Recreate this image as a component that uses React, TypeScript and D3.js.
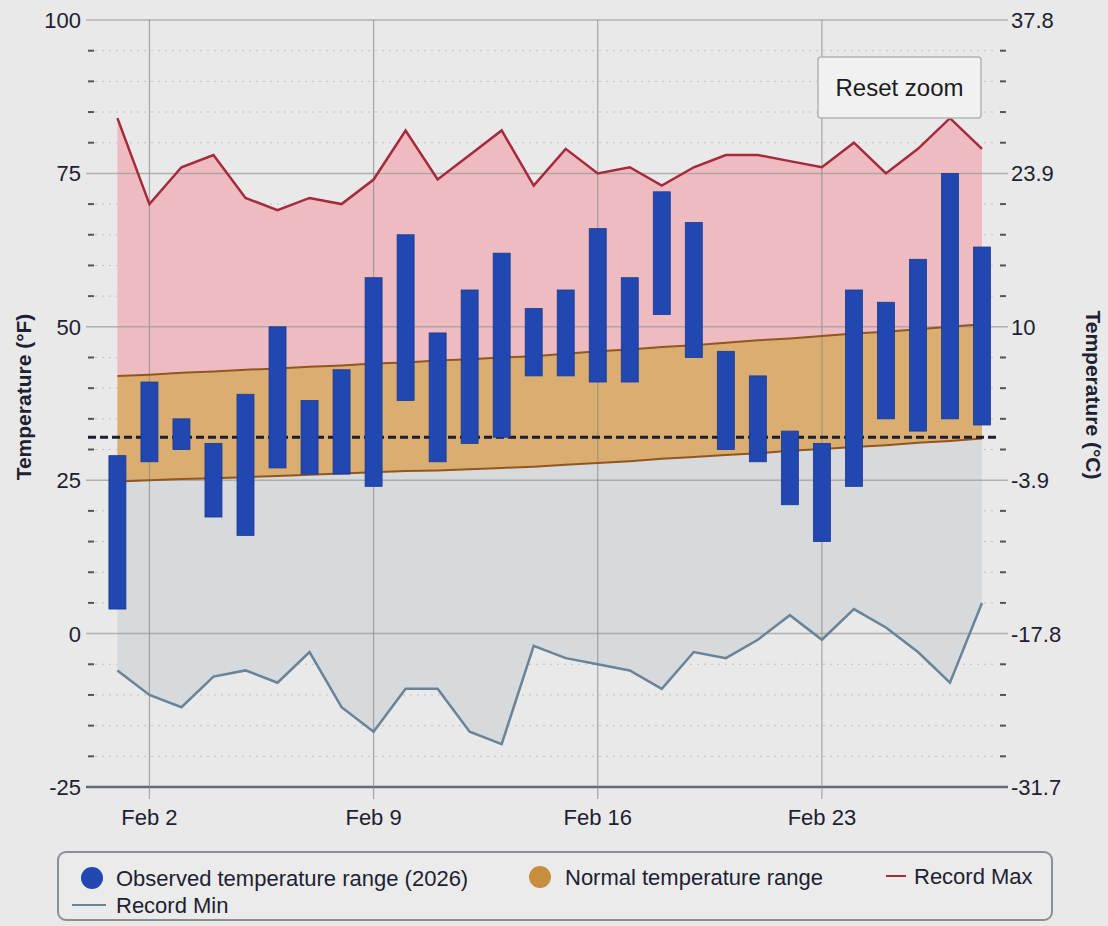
import { useEffect } from 'react';
import * as d3 from 'd3';

// Feb 2026, one entry per day (Feb 1 .. Feb 28), °F
const days = d3.range(1, 29);
const observedLow = [4, 28, 30, 19, 16, 27, 26, 26, 24, 38, 28, 31, 32, 42, 42, 41, 41, 52, 45, 30, 28, 21, 15, 24, 35, 33, 35, 34];
const observedHigh = [29, 41, 35, 31, 39, 50, 38, 43, 58, 65, 49, 56, 62, 53, 56, 66, 58, 72, 67, 46, 42, 33, 31, 56, 54, 61, 75, 63];
const normalLow = [24.8, 25.0, 25.2, 25.3, 25.5, 25.7, 25.9, 26.1, 26.3, 26.5, 26.6, 26.8, 27.0, 27.2, 27.5, 27.8, 28.1, 28.5, 28.8, 29.1, 29.4, 29.8, 30.1, 30.4, 30.7, 31.1, 31.4, 31.8];
const normalHigh = [42.0, 42.2, 42.5, 42.7, 43.0, 43.2, 43.5, 43.7, 44.0, 44.2, 44.5, 44.7, 45.0, 45.2, 45.6, 46.0, 46.3, 46.7, 47.0, 47.4, 47.8, 48.1, 48.5, 48.9, 49.2, 49.6, 50.0, 50.4];
const recordMax = [84, 70, 76, 78, 71, 69, 71, 70, 74, 82, 74, 78, 82, 73, 79, 75, 76, 73, 76, 78, 78, 77, 76, 80, 75, 79, 84, 79];
const recordMin = [-6, -10, -12, -7, -6, -8, -3, -12, -16, -9, -9, -16, -18, -2, -4, -5, -6, -9, -3, -4, -1, 3, -1, 4, 1, -3, -8, 5];

const xTicks = [2, 9, 16, 23];
const yTicks = [-25, 0, 25, 50, 75, 100];
const freezing = 32;

const width = 1108;
const height = 926;
const plot = { left: 95, right: 998, top: 20, bottom: 787 };

const toC = (f: number) => ((f - 32) * 5) / 9;

const App = () => {
  useEffect(() => {
    document.body.style.margin = '0';
  }, []);

  const x = d3.scaleLinear().domain([0.3, 28.5]).range([plot.left, plot.right]);
  const y = d3.scaleLinear().domain([-25, 100]).range([plot.bottom, plot.top]);

  const minorTicks = d3.range(-25, 101, 5).filter(v => v % 25 !== 0);

  const band = (upper: number[], lower: number[]) =>
    d3.area<number>()
      .x(d => x(d))
      .y0((_, i) => y(lower[i]))
      .y1((_, i) => y(upper[i]))(days) || '';

  const line = (vals: number[]) =>
    d3.line<number>()
      .x(d => x(d))
      .y((_, i) => y(vals[i]))(days) || '';

  const barW = 17;
  const font = 'Liberation Sans, Arial, sans-serif';
  const textCol = '#1d2233';
  const fs = 22;

  return (
    <svg width={width} height={height} style={{ display: 'block', fontFamily: font }}>
      <rect width={width} height={height} fill="#e9e9e9" />

      {/* minor grid */}
      {minorTicks.map(v => (
        <g key={'m' + v}>
          <line x1={plot.left} x2={plot.right} y1={y(v)} y2={y(v)} stroke="#c2c2c2" strokeDasharray="2,5" />
          <line x1={88} x2={94} y1={y(v)} y2={y(v)} stroke="#555" strokeWidth={2} />
          <line x1={1000} x2={1006} y1={y(v)} y2={y(v)} stroke="#555" strokeWidth={2} />
        </g>
      ))}

      {/* bands */}
      <path d={band(recordMax, normalHigh)} fill="#eebcc0" />
      <path d={band(normalHigh, normalLow)} fill="#d9ae70" />
      <path d={band(normalLow, recordMin)} fill="#d6dadd" />

      {/* major grid */}
      {yTicks.map(v => (
        <line key={'g' + v} x1={86} x2={1008} y1={y(v)} y2={y(v)}
          stroke={v === -25 ? '#5f6a78' : '#9a9a9a'} strokeWidth={v === -25 ? 2.5 : 1.5} opacity={v === -25 ? 1 : 0.7} />
      ))}
      {xTicks.map(d => (
        <line key={'v' + d} x1={x(d)} x2={x(d)} y1={plot.top} y2={plot.bottom + 12} stroke="#8a8a8a" strokeWidth={1.2} opacity={0.7} />
      ))}

      {/* band edges */}
      <path d={line(normalHigh)} fill="none" stroke="#93561f" strokeWidth={2} />
      <path d={line(normalLow)} fill="none" stroke="#93561f" strokeWidth={2} />
      <path d={line(recordMax)} fill="none" stroke="#a52a3c" strokeWidth={2.5} />
      <path d={line(recordMin)} fill="none" stroke="#6a8397" strokeWidth={2.5} />

      {/* freezing line */}
      <line x1={88} x2={1000} y1={y(freezing)} y2={y(freezing)} stroke="#1c1d30" strokeWidth={3} strokeDasharray="8,4" />

      {/* observed bars */}
      {days.map((d, i) => (
        <rect key={'b' + d} x={x(d) - barW / 2} y={y(observedHigh[i])} width={barW}
          height={y(observedLow[i]) - y(observedHigh[i])} fill="#2147b0" stroke="#1a3a95" strokeWidth={0.8} />
      ))}

      {/* left axis labels */}
      {yTicks.map(v => (
        <text key={'l' + v} x={81} y={y(v) + 8} textAnchor="end" fontSize={fs} fill={textCol}>{v}</text>
      ))}
      {/* right axis labels */}
      {yTicks.map(v => (
        <text key={'r' + v} x={1011} y={y(v) + 8} textAnchor="start" fontSize={fs} fill={textCol}>
          {Number.isInteger(+toC(v).toFixed(1)) ? toC(v).toFixed(0) : toC(v).toFixed(1)}
        </text>
      ))}
      {/* x labels */}
      {xTicks.map(d => (
        <text key={'x' + d} x={x(d)} y={825} textAnchor="middle" fontSize={fs} fill={textCol}>Feb {d}</text>
      ))}

      {/* axis titles */}
      <text transform="translate(31,397) rotate(-90)" textAnchor="middle" fontSize={21} fontWeight="bold" fill={textCol}>Temperature (°F)</text>
      <text transform="translate(1086,395) rotate(90)" textAnchor="middle" fontSize={21} fontWeight="bold" fill={textCol}>Temperature (°C)</text>

      {/* reset zoom button */}
      <rect x={818} y={57} width={163} height={61} rx={3} fill="#f1f1f1" stroke="#b5b5b5" strokeWidth={1.5} />
      <text x={899.5} y={96} textAnchor="middle" fontSize={24} fill="#1b1b22">Reset zoom</text>

      {/* legend */}
      <rect x={58} y={852} width={994} height={68} rx={8} fill="#ebebeb" stroke="#8b8f96" strokeWidth={2} />
      <circle cx={92} cy={878} r={11} fill="#2147b0" />
      <text x={116} y={886} fontSize={fs} fill={textCol}>Observed temperature range (2026)</text>
      <circle cx={540} cy={877} r={11} fill="#c88e40" />
      <text x={565} y={885} fontSize={fs} fill={textCol}>Normal temperature range</text>
      <line x1={886} x2={906} y1={876} y2={876} stroke="#a52a3c" strokeWidth={2} />
      <text x={914} y={884} fontSize={fs} fill={textCol}>Record Max</text>
      <line x1={72} x2={106} y1={905} y2={905} stroke="#6a8397" strokeWidth={2} />
      <text x={116} y={913} fontSize={fs} fill={textCol}>Record Min</text>
    </svg>
  );
};

export default App;
